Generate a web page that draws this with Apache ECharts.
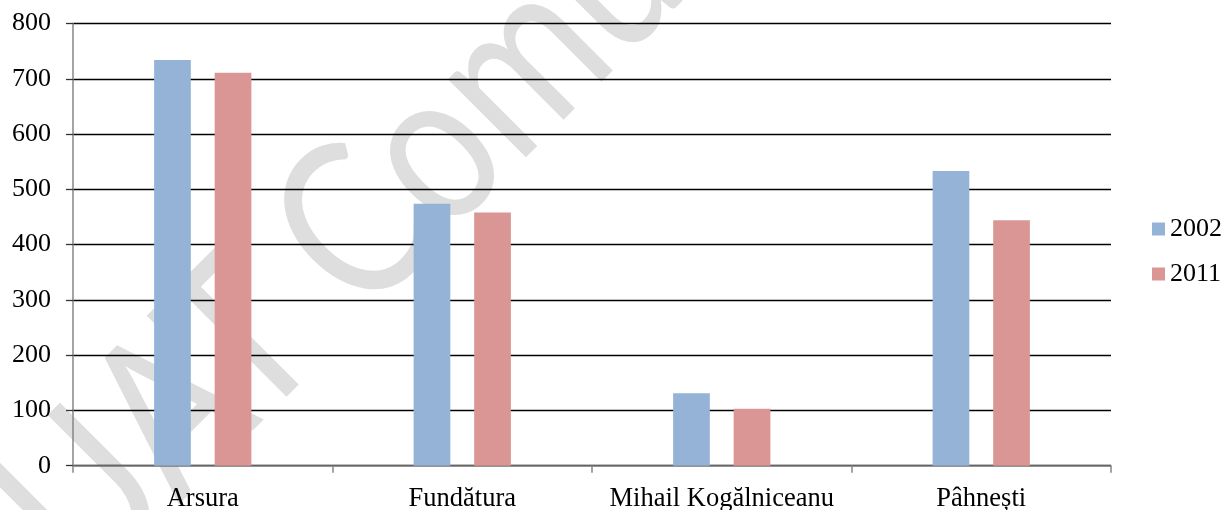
<!DOCTYPE html>
<html>
<head>
<meta charset="utf-8">
<script src="https://cdn.jsdelivr.net/npm/echarts@6/dist/echarts.min.js"></script>
<style>
html,body{margin:0;padding:0;background:#fff;}
#chart{width:1226px;height:510px;}
</style>
</head>
<body>
<div id="chart"></div>
<script>
const categories = ['Arsura', 'Fundătura', 'Mihail Kogălniceanu', 'Pâhnești'];
const values2002 = [734, 474, 131, 533];
const values2011 = [711, 458, 103, 444];
const seriesNames = ['2002', '2011'];
const watermarkText = 'UAT Comuna';

const serif = '"Liberation Serif", "Times New Roman", serif';
const chart = echarts.init(document.getElementById('chart'));
chart.setOption({
  backgroundColor: '#ffffff',
  animation: false,
  graphic: [{
    type: 'text',
    x: 115,
    y: 623,
    rotation: Math.PI / 4,
    scaleX: 0.82,
    z: -100,
    silent: true,
    style: {
      text: watermarkText,
      font: 'normal 218px Lato, "Open Sans", sans-serif',
      fill: '#dedede',
      align: 'left',
      verticalAlign: 'bottom'
    }
  }],
  grid: { left: 73, right: 115, top: 23.5, bottom: 44.3, containLabel: false, outerBoundsMode: 'none' },
  legend: {
    orient: 'vertical',
    left: 1152,
    top: 216,
    padding: 0,
    itemWidth: 13,
    itemHeight: 13,
    itemGap: 19,
    icon: 'rect',
    textStyle: { fontFamily: serif, fontSize: 26, color: '#000', padding: [0, 0, 0, 0] },
    data: seriesNames
  },
  xAxis: {
    type: 'category',
    data: categories,
    boundaryGap: true,
    axisLine: { show: true, lineStyle: { color: '#868686', width: 1.5 } },
    axisTick: { show: true, alignWithLabel: false, length: 7, lineStyle: { color: '#868686', width: 1.5 } },
    axisLabel: { fontFamily: serif, fontSize: 26.5, color: '#000', margin: 20, interval: 0 },
    splitLine: { show: false }
  },
  yAxis: {
    type: 'value',
    min: 0,
    max: 800,
    interval: 100,
    axisLine: { show: true, lineStyle: { color: '#868686', width: 1.5 } },
    axisTick: { show: true, length: 7, lineStyle: { color: '#333', width: 1.3 } },
    axisLabel: { fontFamily: serif, fontSize: 26, color: '#000', margin: 22 },
    splitLine: { show: true, lineStyle: { color: '#000', width: 1.4 } }
  },
  series: [
    { name: seriesNames[0], type: 'bar', data: values2002, barWidth: 36.7, barGap: '65%', itemStyle: { color: '#95b3d7' } },
    { name: seriesNames[1], type: 'bar', data: values2011, barWidth: 36.7, barGap: '65%', itemStyle: { color: '#d99694' } }
  ]
});
</script>
</body>
</html>
